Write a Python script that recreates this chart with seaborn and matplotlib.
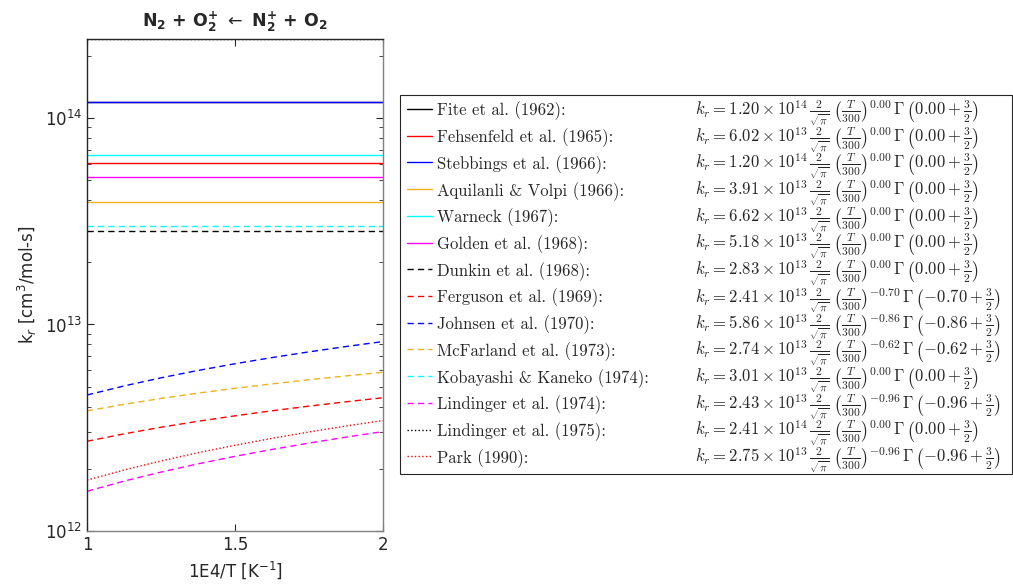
import numpy as np
import matplotlib
matplotlib.use("Agg")
import matplotlib.pyplot as plt
import seaborn as sns

# x axis grid (1E4/T)
XGRID = [1.0, 1.125, 1.25, 1.375, 1.5, 1.625, 1.75, 1.875, 2.0]
XCONST = [1.0, 2.0]

# series (cm^3/mol-s)
fite = [1.20e14, 1.20e14]
fehsenfeld = [6.02e13, 6.02e13]
stebbings = [1.20e14, 1.20e14]
aquilanli = [3.91e13, 3.91e13]
warneck = [6.62e13, 6.62e13]
golden = [5.18e13, 5.18e13]
dunkin = [2.83e13, 2.83e13]
ferguson = [2.719e12, 2.953e12, 3.179e12, 3.398e12, 3.611e12, 3.820e12, 4.023e12, 4.222e12, 4.417e12]
johnsen = [4.553e12, 5.038e12, 5.516e12, 5.987e12, 6.453e12, 6.912e12, 7.367e12, 7.818e12, 8.264e12]
mcfarland = [3.816e12, 4.105e12, 4.382e12, 4.649e12, 4.907e12, 5.156e12, 5.399e12, 5.635e12, 5.865e12]
kobayashi = [3.01e13, 3.01e13]
lindinger74 = [1.557e12, 1.744e12, 1.929e12, 2.114e12, 2.299e12, 2.482e12, 2.665e12, 2.848e12, 3.030e12]
lindinger75 = [2.41e14, 2.41e14]
park = [1.763e12, 1.973e12, 2.184e12, 2.393e12, 2.601e12, 2.809e12, 3.016e12, 3.223e12, 3.428e12]

names = ["Fite et al. (1962):", "Fehsenfeld et al. (1965):", "Stebbings et al. (1966):",
         "Aquilanli & Volpi (1966):", "Warneck (1967):", "Golden et al. (1968):",
         "Dunkin et al. (1968):", "Ferguson et al. (1969):", "Johnsen et al. (1970):",
         "McFarland et al. (1973):", "Kobayashi & Kaneko (1974):", "Lindinger et al. (1974):",
         "Lindinger et al. (1975):", "Park (1990):"]
mantissa = ["1.20", "6.02", "1.20", "3.91", "6.62", "5.18", "2.83", "2.41", "5.86", "2.74",
            "3.01", "2.43", "2.41", "2.75"]
exponent = [14, 13, 14, 13, 13, 13, 13, 13, 13, 13, 13, 13, 14, 13]
tpow = ["0.00", "0.00", "0.00", "0.00", "0.00", "0.00", "0.00", "-0.70", "-0.86", "-0.62",
        "0.00", "-0.96", "0.00", "-0.96"]

series = [(XCONST, fite), (XCONST, fehsenfeld), (XCONST, stebbings), (XCONST, aquilanli),
          (XCONST, warneck), (XCONST, golden), (XCONST, dunkin), (XGRID, ferguson),
          (XGRID, johnsen), (XGRID, mcfarland), (XCONST, kobayashi), (XGRID, lindinger74),
          (XCONST, lindinger75), (XGRID, park)]

orange = "#EDB120"
cyan = "#00FFFF"
magenta = "#FF00FF"
colors = ["k", "#FF0000", "#0000FF", orange, cyan, magenta,
          "k", "#FF0000", "#0000FF", orange, cyan, magenta, "k", "#FF0000"]
dash = (0, (4.5, 3))
styles = ["-"] * 6 + [dash] * 6 + [":", ":"]

sns.set_style("ticks")
plt.rcParams["font.family"] = ["DejaVu Sans"]
plt.rcParams["mathtext.fontset"] = "dejavusans"

fig = plt.figure(figsize=(10.13, 5.86), dpi=100)
ax = fig.add_axes([87 / 1013, 1 - 531 / 586, 296 / 1013, 492 / 586])

handles = []
for (xs, ys), c, ls in zip(series, colors, styles):
    sns.lineplot(x=xs, y=ys, ax=ax, color=c, linestyle=ls, linewidth=1.0)
    handles.append(ax.get_lines()[-1])

ax.set_yscale("log")
ax.set_xlim(1, 2)
ax.set_ylim(1e12, 2.41e14)
ax.set_xticks([1, 1.5, 2])
ax.set_xticklabels(["1", "1.5", "2"])
ax.tick_params(which="both", direction="in", top=True, right=True, labelsize=12,
               colors="#262626")
ax.tick_params(which="major", length=5)
ax.tick_params(which="minor", length=3)
ax.tick_params(axis="x", which="minor", bottom=False, top=False)
for side in ["left", "top"]:
    ax.spines[side].set_color("#262626")
for side in ["right", "bottom"]:
    ax.spines[side].set_color("#808080")
for s in ax.spines.values():
    s.set_linewidth(1.0)

ax.set_xlabel("1E4/T [K$^{-1}$]", fontsize=12, color="#262626")
ax.set_ylabel("k$_r$ [cm$^3$/mol-s]", fontsize=12, color="#262626")
ax.set_title(r"N$_\mathbf{2}$ + O$_\mathbf{2}^\mathbf{+}$ $\leftarrow$ N$_\mathbf{2}^\mathbf{+}$ + O$_\mathbf{2}$",
             fontsize=12.5, fontweight="bold", pad=9)

leg = fig.legend(handles, names, loc="upper left",
                 bbox_to_anchor=(400 / 1013, 1 - 95 / 586, 612 / 1013, 0),
                 mode="expand", borderaxespad=0, frameon=True,
                 prop={"family": ["cmr10", "DejaVu Serif"], "size": 12},
                 fancybox=False, framealpha=1, edgecolor="#262626",
                 handlelength=1.5, handletextpad=0.3, handleheight=1.0,
                 labelspacing=0.48, borderpad=0.4)
leg.get_frame().set_linewidth(0.8)

fig.canvas.draw()
H = fig.bbox.height
for t, m, e, p in zip(leg.get_texts(), mantissa, exponent, tpow):
    xd, yd = t.get_transform().transform(t.get_position())
    formula = (r"$k_r = " + m + r" \times 10^{" + str(e) + r"}\,\frac{2}{\sqrt{\pi}}\;"
               r"\left(\frac{T}{300}\right)^{" + p + r"}\,\Gamma\,\left(" + p +
               r" + \frac{3}{2}\right)$")
    fig.text(695 / 1013, yd / H, formula, fontsize=12, va="baseline", ha="left",
             math_fontfamily="cm", zorder=10)

fig.savefig("out.png", dpi=100)
